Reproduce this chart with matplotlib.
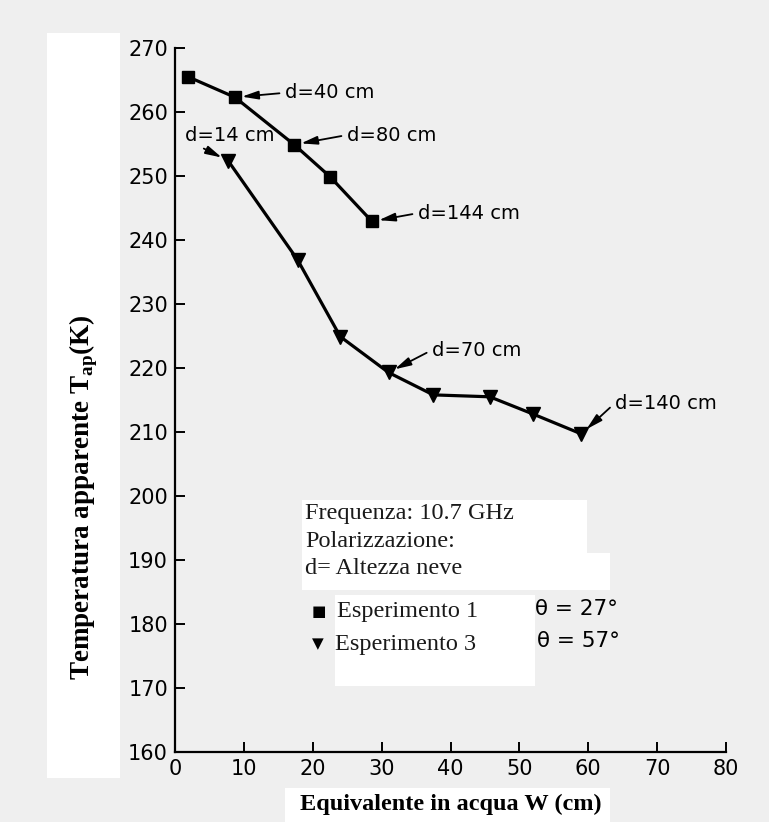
import matplotlib
matplotlib.use("Agg")
import matplotlib.pyplot as plt
from matplotlib.patches import Rectangle

# --- dati ---
exp1_w = [1.9, 8.7, 17.3, 22.5, 28.6]
exp1_t = [265.5, 262.3, 254.9, 249.9, 242.9]
exp1_d = {1: "d=40 cm", 2: "d=80 cm", 4: "d=144 cm"}

exp3_w = [7.7, 17.8, 24.0, 31.0, 37.5, 45.7, 52.0, 59.0]
exp3_t = [252.4, 236.9, 224.9, 219.3, 215.8, 215.5, 212.8, 209.7]
exp3_d = {0: "d=14 cm", 3: "d=70 cm", 7: "d=140 cm"}

x_ticks = [0, 10, 20, 30, 40, 50, 60, 70, 80]
y_ticks = [160, 170, 180, 190, 200, 210, 220, 230, 240, 250, 260, 270]

W, H = 769, 822
BG = "#efefef"

plt.rcParams["mathtext.fontset"] = "custom"
plt.rcParams["mathtext.rm"] = "Liberation Serif:bold"


def fx(px):
    return px / W


def fy(py):
    return 1 - py / H


def white_patch(fig, x0, y0, x1, y1):
    fig.add_artist(Rectangle((fx(x0), fy(y1)), (x1 - x0) / W, (y1 - y0) / H,
                             transform=fig.transFigure, facecolor="white",
                             edgecolor="none", zorder=-1))


fig = plt.figure(figsize=(W / 100, H / 100), dpi=100, facecolor=BG)

# toppe bianche della scansione
white_patch(fig, 47, 33, 120, 778)
white_patch(fig, 285, 788, 610, 822)
white_patch(fig, 302, 500, 587, 553)
white_patch(fig, 302, 553, 610, 590)
white_patch(fig, 335, 595, 535, 686)

ax = fig.add_axes([fx(175), fy(752), (726 - 175) / W, (752 - 48) / H])
ax.set_facecolor("none")

ax.plot(exp1_w, exp1_t, color="black", lw=2.3, marker="s", ms=9,
        markerfacecolor="black", markeredgecolor="black")
ax.plot(exp3_w, exp3_t, color="black", lw=2.3, marker="v", ms=10,
        markerfacecolor="black", markeredgecolor="black")

# etichette d= con frecce
text_pos = {
    ("e1", 1): (15.97, 263.0),
    ("e1", 2): (24.96, 256.4),
    ("e1", 4): (35.27, 244.2),
    ("e3", 0): (1.45, 256.4),
    ("e3", 3): (37.3, 222.8),
    ("e3", 7): (63.86, 214.5),
}
arrow = dict(arrowstyle="-|>,head_length=0.7,head_width=0.18", color="black",
             lw=1.3, shrinkA=2, shrinkB=5)

for key, (ws, ts, labels) in {"e1": (exp1_w, exp1_t, exp1_d),
                              "e3": (exp3_w, exp3_t, exp3_d)}.items():
    for i, lab in labels.items():
        tx, ty = text_pos[(key, i)]
        rel = (0.12, 0.0) if (key, i) == ("e3", 0) else (0.0, 0.5)
        ax.annotate(lab, xy=(ws[i], ts[i]), xytext=(tx, ty),
                    ha="left", va="center", fontsize=14,
                    arrowprops=dict(arrow, relpos=rel))

ax.set_xlim(0, 80)
ax.set_ylim(160, 270)
ax.set_xticks(x_ticks)
ax.set_yticks(y_ticks)
for s in ["top", "right"]:
    ax.spines[s].set_visible(False)
for s in ["left", "bottom"]:
    ax.spines[s].set_linewidth(1.6)
ax.tick_params(direction="in", length=7, width=1.4, labelsize=15, pad=5)

serif = "Liberation Serif"
ax.set_xlabel("Equivalente in acqua W (cm)", family=serif, fontweight="bold",
              fontsize=17.5, labelpad=11)
ax.set_ylabel("Temperatura apparente T$_{\\mathrm{ap}}$(K)", family=serif,
              fontweight="bold", fontsize=19.5)
ax.yaxis.set_label_coords((100 - 175) / 551, (752 - 497) / 704)

# riquadro informativo
fs = 17.5
ink = "#1a1a1a"
fig.text(fx(305), fy(514), "Frequenza: 10.7 GHz", family=serif, fontsize=fs,
         va="center", color=ink)
fig.text(fx(305), fy(541), "Polarizzazione:", family=serif, fontsize=fs,
         va="center", color=ink)
fig.text(fx(305), fy(568), "d= Altezza neve", family=serif, fontsize=fs,
         va="center", color=ink)
fig.text(fx(312), fy(611), "■", fontsize=11, va="center")
fig.text(fx(337), fy(611), "Esperimento 1", family=serif, fontsize=fs,
         va="center", color=ink)
fig.text(fx(312), fy(644), "▼", fontsize=11, va="center")
fig.text(fx(335), fy(644), "Esperimento 3", family=serif, fontsize=fs,
         va="center", color=ink)
fig.text(fx(535), fy(609), "θ = 27°", fontsize=15.5, va="center")
fig.text(fx(537), fy(641), "θ = 57°", fontsize=15.5, va="center")

fig.savefig("out.png", dpi=100, facecolor=BG)
